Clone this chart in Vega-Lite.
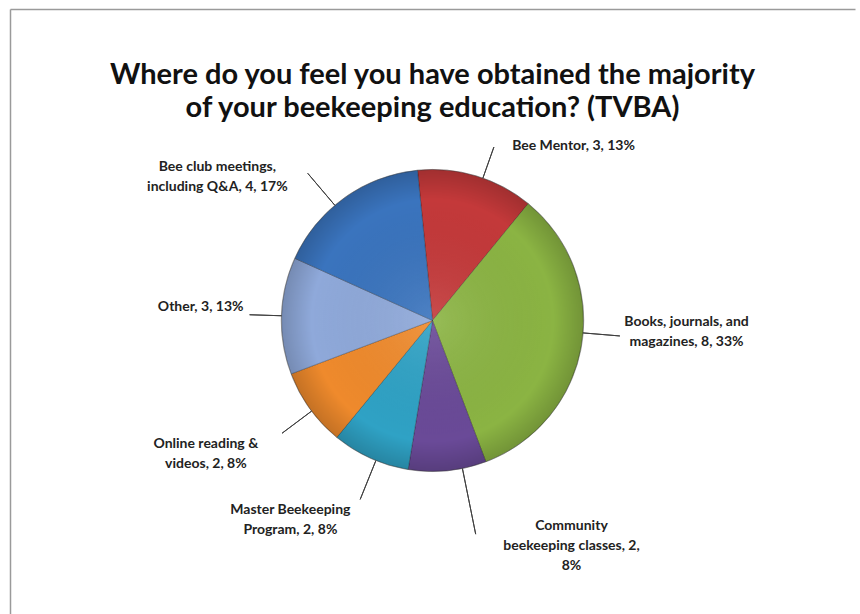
{
  "$schema": "https://vega.github.io/schema/vega-lite/v6.json",
  "width": 845,
  "height": 623,
  "autosize": {"type": "none"},
  "padding": {"left": 10, "top": 9, "right": 5, "bottom": -18},
  "background": "white",
  "config": {"view": {"stroke": null, "strokeWidth": 0, "strokeOpacity": 0, "strokeDash": [0, 10000]}},
  "title": {
    "text": ["Where do you feel you have obtained the majority", "of your beekeeping education? (TVBA)"],
    "font": "Lato",
    "fontSize": 29,
    "fontWeight": "bold",
    "color": "#111111",
    "anchor": "middle",
    "frame": "group",
    "baseline": "top",
    "offset": 0,
    "dy": 117,
    "lineHeight": 33
  },
  "data": {
    "values": [
      {"cat": "Bee Mentor", "label": "Bee Mentor, 3, 13%", "value": 3, "order": 1},
      {"cat": "Books, journals, and magazines", "label": "Books, journals, and\nmagazines, 8, 33%", "value": 8, "order": 2},
      {"cat": "Community beekeeping classes", "label": "Community\nbeekeeping classes,  2,\n8%", "value": 2, "order": 3},
      {"cat": "Master Beekeeping Program", "label": "Master Beekeeping\nProgram, 2, 8%", "value": 2, "order": 4},
      {"cat": "Online reading & videos", "label": "Online reading &\nvideos, 2, 8%", "value": 2, "order": 5},
      {"cat": "Other", "label": "Other, 3, 13%", "value": 3, "order": 6},
      {"cat": "Bee club meetings, including Q&A", "label": "Bee club meetings,\nincluding Q&A, 4, 17%", "value": 4, "order": 7}
    ]
  },
  "layer": [
    {
      "mark": {"type": "point", "opacity": 0},
      "encoding": {
        "x": {"field": "value", "type": "quantitative", "axis": {"orient": "top", "domainColor": "#9a9a9a", "domainWidth": 1.5, "ticks": false, "labels": false, "grid": false, "title": null}},
        "y": {"field": "order", "type": "quantitative", "axis": {"orient": "left", "domainColor": "#9a9a9a", "domainWidth": 1.5, "ticks": false, "labels": false, "grid": false, "title": null}}
      }
    },
    {
      "mark": {"type": "arc", "outerRadius": 151, "stroke": "#000000", "strokeOpacity": 0.25, "strokeWidth": 1},
      "encoding": {
        "theta": {"field": "value", "type": "quantitative", "stack": true, "scale": {"domain": [0, 24], "range": [-0.0995, 6.1837]}},
        "order": {"field": "order", "type": "quantitative"},
        "color": {
          "field": "cat", "type": "nominal", "legend": null,
          "scale": {
            "domain": ["Bee Mentor", "Books, journals, and magazines", "Community beekeeping classes", "Master Beekeeping Program", "Online reading & videos", "Other", "Bee club meetings, including Q&A"],
            "range": ["#C4393A", "#8BB443", "#6A4A98", "#2FA2C5", "#EF8A2C", "#8FA9DA", "#3A74BE"]
          }
        }
      }
    },
    {
      "transform": [{"aggregate": [{"op": "sum", "field": "value", "as": "total"}]}],
      "mark": {
        "type": "arc", "outerRadius": 151,
        "fill": {"gradient": "radial", "x1": 0.5, "y1": 0.5, "r1": 0, "x2": 0.5, "y2": 0.5, "r2": 0.5,
          "stops": [
            {"offset": 0, "color": "rgba(255,255,255,0.10)"},
            {"offset": 0.8, "color": "rgba(0,0,0,0)"},
            {"offset": 1, "color": "rgba(0,0,0,0.18)"}
          ]},
        "stroke": "#555555", "strokeOpacity": 0.4, "strokeWidth": 1
      },
      "encoding": {
        "theta": {"field": "total", "type": "quantitative", "scale": {"domain": [0, 24], "range": [-0.0995, 6.1837]}}
      }
    },
    {"mark": {"type": "arc", "innerRadius": 151, "outerRadius": 184, "padAngle": 1.5, "thetaOffset": 0.047, "theta2Offset": 0.047, "fillOpacity": 0, "stroke": "#404040", "strokeWidth": 1},
     "encoding": {"theta": {"field": "value", "type": "quantitative", "stack": true}, "order": {"field": "order", "type": "quantitative"},
       "strokeOpacity": {"condition": {"test": "datum.order === 1", "value": 1}, "value": 0}}},
    {"mark": {"type": "arc", "innerRadius": 151, "outerRadius": 188, "padAngle": 1.5, "thetaOffset": -0.08, "theta2Offset": -0.08, "fillOpacity": 0, "stroke": "#404040", "strokeWidth": 1},
     "encoding": {"theta": {"field": "value", "type": "quantitative", "stack": true}, "order": {"field": "order", "type": "quantitative"},
       "strokeOpacity": {"condition": {"test": "datum.order === 2", "value": 1}, "value": 0}}},
    {"mark": {"type": "arc", "innerRadius": 151, "outerRadius": 218, "padAngle": 1.5, "thetaOffset": -0.1, "theta2Offset": -0.1, "fillOpacity": 0, "stroke": "#404040", "strokeWidth": 1},
     "encoding": {"theta": {"field": "value", "type": "quantitative", "stack": true}, "order": {"field": "order", "type": "quantitative"},
       "strokeOpacity": {"condition": {"test": "datum.order === 3", "value": 1}, "value": 0}}},
    {"mark": {"type": "arc", "innerRadius": 151, "outerRadius": 193, "padAngle": 1.5, "thetaOffset": -0.04, "theta2Offset": -0.04, "fillOpacity": 0, "stroke": "#404040", "strokeWidth": 1},
     "encoding": {"theta": {"field": "value", "type": "quantitative", "stack": true}, "order": {"field": "order", "type": "quantitative"},
       "strokeOpacity": {"condition": {"test": "datum.order === 4", "value": 1}, "value": 0}}},
    {"mark": {"type": "arc", "innerRadius": 151, "outerRadius": 188, "padAngle": 1.5, "thetaOffset": -0.02, "theta2Offset": -0.02, "fillOpacity": 0, "stroke": "#404040", "strokeWidth": 1},
     "encoding": {"theta": {"field": "value", "type": "quantitative", "stack": true}, "order": {"field": "order", "type": "quantitative"},
       "strokeOpacity": {"condition": {"test": "datum.order === 5", "value": 1}, "value": 0}}},
    {"mark": {"type": "arc", "innerRadius": 151, "outerRadius": 183, "padAngle": 1.5, "fillOpacity": 0, "stroke": "#404040", "strokeWidth": 1},
     "encoding": {"theta": {"field": "value", "type": "quantitative", "stack": true}, "order": {"field": "order", "type": "quantitative"},
       "strokeOpacity": {"condition": {"test": "datum.order === 6", "value": 1}, "value": 0}}},
    {"mark": {"type": "arc", "innerRadius": 151, "outerRadius": 193, "padAngle": 1.5, "thetaOffset": -0.08, "theta2Offset": -0.08, "fillOpacity": 0, "stroke": "#404040", "strokeWidth": 1},
     "encoding": {"theta": {"field": "value", "type": "quantitative", "stack": true}, "order": {"field": "order", "type": "quantitative"},
       "strokeOpacity": {"condition": {"test": "datum.order === 7", "value": 1}, "value": 0}}},
    {"mark": {"type": "text", "radius": 151, "dx": 36, "dy": -30, "align": "left", "baseline": "middle", "font": "Lato", "fontWeight": "bold", "fontSize": 14, "lineBreak": "\n", "lineHeight": 20, "color": "#222222"},
     "encoding": {"theta": {"field": "value", "type": "quantitative", "stack": true}, "order": {"field": "order", "type": "quantitative"},
       "text": {"condition": {"test": "datum.order === 1", "field": "label"}, "value": ""}}},
    {"mark": {"type": "text", "radius": 151, "dx": 105, "dy": -23, "align": "center", "baseline": "middle", "font": "Lato", "fontWeight": "bold", "fontSize": 14, "lineBreak": "\n", "lineHeight": 20, "color": "#222222"},
     "encoding": {"theta": {"field": "value", "type": "quantitative", "stack": true}, "order": {"field": "order", "type": "quantitative"},
       "text": {"condition": {"test": "datum.order === 2", "field": "label"}, "value": ""}}},
    {"mark": {"type": "text", "radius": 151, "dx": 124, "dy": 55, "align": "center", "baseline": "middle", "font": "Lato", "fontWeight": "bold", "fontSize": 14, "lineBreak": "\n", "lineHeight": 20, "color": "#222222"},
     "encoding": {"theta": {"field": "value", "type": "quantitative", "stack": true}, "order": {"field": "order", "type": "quantitative"},
       "text": {"condition": {"test": "datum.order === 3", "field": "label"}, "value": ""}}},
    {"mark": {"type": "text", "radius": 151, "dx": -80, "dy": 52, "align": "center", "baseline": "middle", "font": "Lato", "fontWeight": "bold", "fontSize": 14, "lineBreak": "\n", "lineHeight": 20, "color": "#222222"},
     "encoding": {"theta": {"field": "value", "type": "quantitative", "stack": true}, "order": {"field": "order", "type": "quantitative"},
       "text": {"condition": {"test": "datum.order === 4", "field": "label"}, "value": ""}}},
    {"mark": {"type": "text", "radius": 151, "dx": -104, "dy": 35, "align": "center", "baseline": "middle", "font": "Lato", "fontWeight": "bold", "fontSize": 14, "lineBreak": "\n", "lineHeight": 20, "color": "#222222"},
     "encoding": {"theta": {"field": "value", "type": "quantitative", "stack": true}, "order": {"field": "order", "type": "quantitative"},
       "text": {"condition": {"test": "datum.order === 5", "field": "label"}, "value": ""}}},
    {"mark": {"type": "text", "radius": 151, "dx": -38, "dy": -9, "align": "right", "baseline": "middle", "font": "Lato", "fontWeight": "bold", "fontSize": 14, "lineBreak": "\n", "lineHeight": 20, "color": "#222222"},
     "encoding": {"theta": {"field": "value", "type": "quantitative", "stack": true}, "order": {"field": "order", "type": "quantitative"},
       "text": {"condition": {"test": "datum.order === 6", "field": "label"}, "value": ""}}},
    {"mark": {"type": "text", "radius": 151, "dx": -127, "dy": -31, "align": "center", "baseline": "middle", "font": "Lato", "fontWeight": "bold", "fontSize": 14, "lineBreak": "\n", "lineHeight": 20, "color": "#222222"},
     "encoding": {"theta": {"field": "value", "type": "quantitative", "stack": true}, "order": {"field": "order", "type": "quantitative"},
       "text": {"condition": {"test": "datum.order === 7", "field": "label"}, "value": ""}}}
  ]
}
